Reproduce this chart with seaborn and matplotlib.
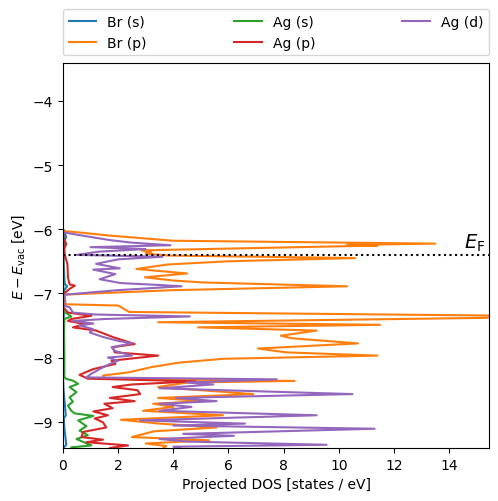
import matplotlib
matplotlib.use("Agg")
import matplotlib.pyplot as plt
import seaborn as sns
import pandas as pd

# ---- data (energy in eV, projected DOS in states/eV) ----
br_s_E = [-6.0, -6.07, -6.12, -6.18, -6.30, -6.40, -6.50, -6.85, -6.89, -6.95, -7.02,
          -7.36, -7.5, -8.30, -8.5, -8.90, -8.95, -9.1, -9.36, -9.40, -9.45]
br_s_D = [0, 0.06, 0.12, 0.04, 0.03, 0.05, 0.02, 0.06, 0.15, 0.05, 0.0,
          0.03, 0.0, 0.0, 0.02, 0.1, 0.03, 0.05, 0.12, 0.03, 0.05]

br_p_E = [-6.00, -6.03, -6.06, -6.10, -6.18, -6.225, -6.245, -6.255, -6.33, -6.36, -6.38,
          -6.41, -6.45, -6.50, -6.55, -6.62, -6.69, -6.75, -6.80, -6.83, -6.89, -6.95, -7.02,
          -7.17, -7.19, -7.24, -7.29, -7.35, -7.375, -7.45, -7.49, -7.53, -7.58, -7.66, -7.70,
          -7.78, -7.86, -7.92, -7.97, -8.02, -8.08, -8.15, -8.23, -8.28, -8.33, -8.365, -8.39,
          -8.46, -8.57, -8.63, -8.68, -8.72, -8.77, -8.83, -8.90, -8.97, -9.03, -9.09, -9.15,
          -9.24, -9.29, -9.34, -9.38, -9.45]
br_p_D = [0, 0.05, 0.8, 1.7, 4.0, 13.5, 10.3, 11.4, 2.85, 3.2, 3.0,
          3.8, 10.6, 6.0, 3.8, 2.66, 4.5, 2.97, 4.0, 5.07, 10.3, 4.0, 0.05,
          0.1, 2.0, 2.2, 2.4, 16.5, 16.5, 3.45, 11.5, 4.9, 9.2, 7.9, 8.3,
          10.7, 7.07, 8.1, 11.4, 5.8, 4.2, 3.2, 2.4, 1.45, 1.5, 8.4, 4.5,
          3.45, 6.9, 3.45, 5.1, 3.27, 4.0, 2.9, 5.8, 2.1, 3.5, 5.57, 3.3,
          2.5, 5.3, 3.0, 3.75, 3.5]

ag_s_E = [-6.0, -7.28, -7.33, -7.36, -7.40, -7.6, -8.0, -8.30, -8.33, -8.36, -8.41, -8.46,
          -8.54, -8.62, -8.69, -8.75, -8.83, -8.87, -8.91, -8.98, -9.07, -9.14, -9.21, -9.27,
          -9.31, -9.37, -9.40, -9.45]
ag_s_D = [0, 0.02, 0.2, 0.3, 0.05, 0.04, 0.05, 0.05, 0.1, 0.36, 0.55, 0.24,
          0.49, 0.24, 0.36, 0.18, 0.3, 0.42, 1.1, 0.55, 0.85, 0.6, 0.9, 0.49,
          0.7, 1.03, 0.3, 0.4]

ag_p_E = [-6.00, -6.10, -6.16, -6.23, -6.30, -6.39, -6.54, -6.75, -6.86, -6.88, -6.93,
          -7.01, -7.22, -7.30, -7.35, -7.40, -7.43, -7.48, -7.53, -7.58, -7.68, -7.79, -7.84,
          -7.92, -7.97, -8.05, -8.10, -8.18, -8.27, -8.33, -8.37, -8.42, -8.46, -8.51, -8.57,
          -8.63, -8.68, -8.72, -8.79, -8.84, -8.90, -8.95, -9.01, -9.09, -9.16, -9.24, -9.28,
          -9.32, -9.37, -9.41, -9.45]
ag_p_D = [0, 0.02, 0.04, 0.12, 0.05, 0.06, 0.16, 0.18, 0.24, 0.43, 0.24,
          0.02, 0.02, 0.18, 1.03, 0.3, 0.18, 0.8, 0.36, 1.2, 1.8, 2.6, 1.8,
          1.88, 3.45, 1.76, 1.9, 1.1, 0.6, 0.9, 4.8, 2.5, 1.8, 2.7, 2.8,
          1.7, 2.6, 1.5, 1.8, 1.1, 1.63, 1.15, 1.45, 1.57, 0.73, 0.67, 1.45,
          0.85, 2.36, 1.7, 1.8]

ag_d_E = [-6.00, -6.05, -6.10, -6.17, -6.21, -6.25, -6.28, -6.31, -6.35, -6.40, -6.43,
          -6.47, -6.54, -6.61, -6.63, -6.70, -6.78, -6.84, -6.87, -6.89, -6.95, -7.02, -7.19,
          -7.22, -7.30, -7.33, -7.36, -7.40, -7.43, -7.47, -7.50, -7.56, -7.61, -7.68, -7.74,
          -7.78, -7.84, -7.90, -7.97, -8.00, -8.05, -8.10, -8.18, -8.26, -8.31, -8.34, -8.39,
          -8.42, -8.48, -8.57, -8.63, -8.68, -8.72, -8.77, -8.83, -8.90, -8.98, -9.03, -9.06,
          -9.11, -9.19, -9.22, -9.27, -9.31, -9.36, -9.39, -9.45]
ag_d_D = [0, 0.02, 0.7, 1.7, 2.5, 3.9, 1.0, 3.0, 1.3, 0.5, 3.6,
          2.0, 1.2, 2.06, 1.1, 1.9, 1.33, 2.1, 3.5, 4.3, 2.0, 0.06, 0.05,
          0.25, 0.36, 1.2, 4.6, 1.5, 0.36, 1.1, 0.6, 1.1, 0.97, 1.45, 2.0,
          2.5, 1.76, 1.9, 2.5, 1.63, 2.0, 1.7, 1.33, 1.0, 0.85, 7.75, 4.48,
          5.45, 3.5, 10.5, 4.1, 5.57, 3.5, 4.66, 3.5, 9.2, 2.8, 6.6, 4.0,
          11.3, 4.36, 6.2, 3.5, 4.5, 9.56, 4.0, 4.5]

series = [
    ("Br (s)", br_s_E, br_s_D),
    ("Br (p)", br_p_E, br_p_D),
    ("Ag (s)", ag_s_E, ag_s_D),
    ("Ag (p)", ag_p_E, ag_p_D),
    ("Ag (d)", ag_d_E, ag_d_D),
]
colors = ["#1f77b4", "#ff7f0e", "#2ca02c", "#d62728", "#9467bd"]
fermi = -6.40

fig = plt.figure(figsize=(4.98, 5.02), dpi=100)
ax = fig.add_axes([0.1265, 0.1056, 0.8555, 0.7669])

for (name, E, D), c in zip(series, colors):
    df = pd.DataFrame({"E": E, "D": D})
    sns.lineplot(data=df, x="D", y="E", sort=False, estimator=None,
                 color=c, label=name, lw=1.5, ax=ax)

ax.axhline(fermi, color="k", ls=":", lw=1.5)
ax.text(14.55, fermi + 0.03, r"$E_{\mathrm{F}}$", fontsize=14, ha="left", va="bottom")

ax.set_xlim(0, 15.45)
ax.set_ylim(-9.41, -3.41)
ax.set_xlabel("Projected DOS [states / eV]")
ax.set_ylabel(r"$E - E_{\mathrm{vac}}$ [eV]")
ax.legend(bbox_to_anchor=(0, 1.02, 1, 0.102), loc="lower left", ncol=3,
          mode="expand", borderaxespad=0)

fig.savefig("out.png", dpi=100)
